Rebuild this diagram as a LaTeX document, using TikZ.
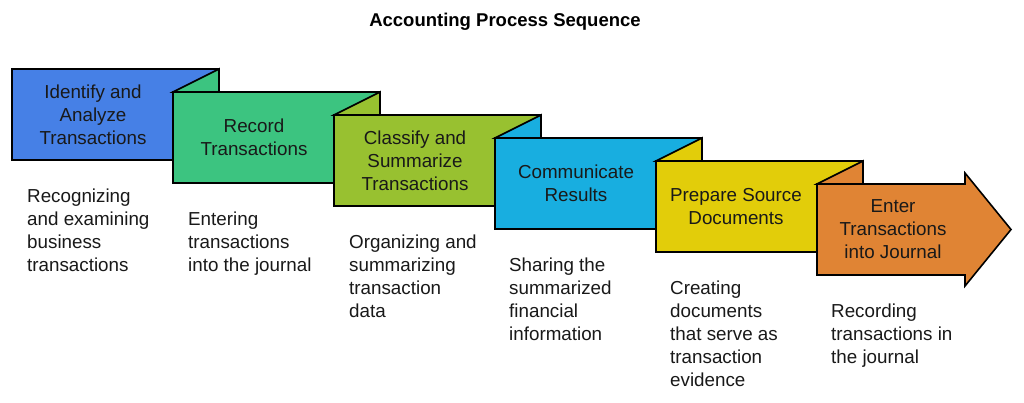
\documentclass[tikz,border=0pt]{standalone}
\usepackage{fontspec}
\setmainfont{Liberation Sans}
\definecolor{cblue}{RGB}{70,128,230}
\definecolor{cgreen}{RGB}{60,196,128}
\definecolor{clime}{RGB}{152,193,48}
\definecolor{csky}{RGB}{24,174,224}
\definecolor{cyellow}{RGB}{226,205,10}
\definecolor{corange}{RGB}{224,132,52}
\definecolor{ink}{RGB}{25,25,25}
\begin{document}
\begin{tikzpicture}[x=1pt,y=-1pt,
  box/.style={draw=black,line width=1.6pt,line join=miter},
  lab/.style={font=\fontsize{18.8}{23}\selectfont, align=center, text=ink, inner sep=0pt},
  desc/.style={font=\fontsize{18.8}{23}\selectfont, align=left, anchor=north west, inner sep=0pt, text=ink},
  ttl/.style={font=\bfseries\fontsize{18.5}{21}\selectfont, text=black, inner sep=0pt}]
\useasboundingbox (0,0) rectangle (1024,402);
\fill[white] (0,0) rectangle (1024,402);

\node[ttl] (title) at (505,22) {Accounting Process Sequence};

% box 1
\draw[box,fill=cblue] (12,69) rectangle (219,160);
% box 2
\draw[box,fill=cgreen] (173,92) rectangle (380,183);
\draw[box,fill=cgreen] (173,92) -- (219,69) -- (219,92) -- cycle;
% box 3
\draw[box,fill=clime] (334,115) rectangle (541,206);
\draw[box,fill=clime] (334,115) -- (380,92) -- (380,115) -- cycle;
% box 4
\draw[box,fill=csky] (495,138) rectangle (702,229);
\draw[box,fill=csky] (495,138) -- (541,115) -- (541,138) -- cycle;
% box 5
\draw[box,fill=cyellow] (656,161) rectangle (863,252);
\draw[box,fill=cyellow] (656,161) -- (702,138) -- (702,161) -- cycle;
% box 6 arrow
\draw[box,fill=corange] (817,184) -- (965,184) -- (965,173) -- (1011,229.5) -- (965,286) -- (965,275) -- (817,275) -- cycle;
\draw[box,fill=corange] (817,184) -- (863,161) -- (863,184) -- cycle;

\node[lab] (l1) at (93,114.5) {Identify and\\Analyze\\Transactions};
\node[lab] (l2) at (254,137.5) {Record\\Transactions};
\node[lab] (l3) at (415,160.5) {Classify and\\Summarize\\Transactions};
\node[lab] (l4) at (576,183.5) {Communicate\\Results};
\node[lab] (l5) at (736,206.5) {Prepare Source\\Documents};
\node[lab] (l6) at (893,229.5) {Enter\\Transactions\\into Journal};

\node[desc] (d1) at (27,188.5) {Recognizing\\and examining\\business\\transactions};
\node[desc] (d2) at (188,211.5) {Entering\\transactions\\into the journal};
\node[desc] (d3) at (349,234.5) {Organizing and\\summarizing\\transaction\\data};
\node[desc] (d4) at (509,257.5) {Sharing the\\summarized\\financial\\information};
\node[desc] (d5) at (670,280.5) {Creating\\documents\\that serve as\\transaction\\evidence};
\node[desc] (d6) at (831,303.5) {Recording\\transactions in\\the journal};
\end{tikzpicture}
\end{document}
